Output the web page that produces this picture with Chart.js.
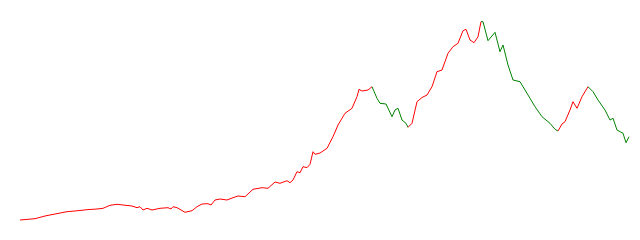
<!DOCTYPE html>
<html>
<head>
<meta charset="utf-8">
<script src="https://cdn.jsdelivr.net/npm/chart.js@4/dist/chart.umd.min.js"></script>
<style>
  html, body { margin: 0; padding: 0; background: #fff; }
  #wrap { width: 640px; height: 240px; position: relative; }
</style>
</head>
<body>
<div id="wrap"><canvas id="c"></canvas></div>
<script>
// Time index (days) and series values
const days = [0,15,25,35,47,58,67,77,83,90,97,103,112,117,120,123,127,132,140,148,151,153,157,165,172,177,182,188,191,195,200,207,213,218,225,233,242,248,255,260,267,270,273,277,280,283,287,290,293,295,300,307,313,318,325,332,337,339,342,348,352,357,360,366,372,375,378,382,386,388,392,397,402,407,412,417,422,428,433,438,443,446,450,454,458,461,463,468,475,480,483,488,493,500,505,510,515,522,530,535,538,542,545,550,553,557,562,568,573,578,585,590,593,597,603,606,609];
const values = [20,21.3,24,26,28.3,29.3,30.3,31,31.7,34.7,35.7,35,34,32.3,33.3,30,31.7,30,31.7,32.3,31,33.3,32.3,27.7,29.3,33.3,36,36.3,35,40,41,40,42.3,44,43.3,50.7,52.3,51.7,58,56.7,59.3,57.3,60,68.3,67.3,73.3,72.3,75.7,88.3,85.7,87,91.7,103.3,115,126.7,131.7,143.3,150.7,149,150,153.3,141.7,136.7,136,123.3,130,131.7,120,116.7,112.7,116.7,138.3,142.5,145,153.3,168.3,170,186.7,193.3,196.7,209.3,210.7,200,197.3,203.3,218.3,218.3,199.3,207.7,188.3,195,175,160,158.3,150,141.7,133.3,123.3,116.7,110.7,109,116,118.3,130,138.3,131.7,143.3,153.3,148.3,140,130,120,121.7,110,106.7,97.3,103.3];
// Days at which the trend regime flips (starts in an up-trend)
const turnDays = [352, 388, 461, 538, 568];

const UP_COLOR = 'rgb(255,0,0)';
const DOWN_COLOR = 'rgb(0,128,0)';

function regimeColor(ctx) {
  const x = ctx.p0.parsed.x;
  let n = 0;
  for (const d of turnDays) if (x >= d) n++;
  return n % 2 === 0 ? UP_COLOR : DOWN_COLOR;
}

new Chart(document.getElementById('c'), {
  type: 'line',
  data: {
    datasets: [{
      data: days.map((d, i) => ({ x: d, y: values[i] })),
      borderWidth: 1,
      borderColor: UP_COLOR,
      pointRadius: 0,
      tension: 0,
      fill: false,
      segment: { borderColor: regimeColor }
    }]
  },
  options: {
    responsive: true,
    maintainAspectRatio: false,
    animation: false,
    layout: { padding: { left: 20, right: 10, top: 0, bottom: 0 } },
    plugins: { legend: { display: false }, tooltip: { enabled: false } },
    scales: {
      x: { type: 'linear', min: 0, max: 610, display: false },
      y: { min: 0, max: 240, display: false }
    }
  }
});
</script>
</body>
</html>
